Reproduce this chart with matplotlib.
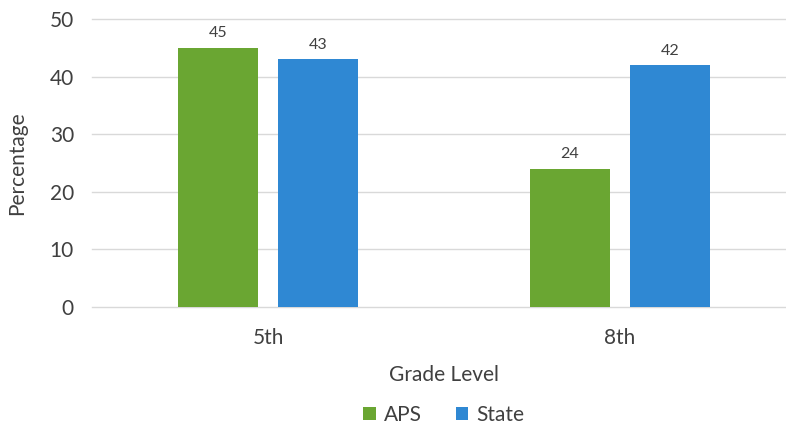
import numpy as np
import matplotlib
matplotlib.use('Agg')
import matplotlib.pyplot as plt

grades = ['5th', '8th']
aps_pct = [45, 24]
state_pct = [43, 42]
series_names = ['APS', 'State']

GREEN = '#6aa632'
BLUE = '#2f88d3'
TEXT_COLOR = '#404040'

plt.rcParams['font.family'] = ['Lato', 'DejaVu Sans']

BAR_STYLING = {
    'width': 0.225,
    'zorder': 3,
}

LABEL_STYLING = {
    'ha': 'center',
    'va': 'bottom',
    'fontsize': 11.5,
    'color': TEXT_COLOR,
}

fig = plt.figure(figsize=(7.86, 4.25), dpi=100)
ax = fig.add_axes([92 / 786, 1 - 307 / 425, 704 / 786, 288 / 425])

x = np.arange(len(grades))
offset = 0.142

bars_aps = ax.bar(x - offset, aps_pct, color=GREEN, label=series_names[0], **BAR_STYLING)
bars_state = ax.bar(x + offset, state_pct, color=BLUE, label=series_names[1], **BAR_STYLING)

for bars, vals in ((bars_aps, aps_pct), (bars_state, state_pct)):
    for b, v in zip(bars, vals):
        ax.text(b.get_x() + b.get_width() / 2, v + 1.3, f'{v}', **LABEL_STYLING)

ax.set_xlim(-0.5, 1.5)
ax.set_ylim(0, 50)
ax.set_yticks(range(0, 51, 10))
ax.set_xticks(x)
ax.set_xticklabels(grades)
ax.tick_params(axis='both', length=0, labelsize=15, labelcolor=TEXT_COLOR)
ax.tick_params(axis='y', pad=13)
ax.tick_params(axis='x', pad=15)

ax.grid(axis='y', color='#d9d9d9', linewidth=1, zorder=0)
for line in ax.get_ygridlines():
    line.set_clip_on(False)
for side in ('top', 'right', 'left', 'bottom'):
    ax.spines[side].set_visible(False)

ax.set_ylabel('Percentage', fontsize=15, color=TEXT_COLOR, labelpad=16)
ax.set_xlabel('Grade Level', fontsize=15, color=TEXT_COLOR, labelpad=12)

ax.legend(
    loc='upper center',
    bbox_to_anchor=(0.5, -0.275),
    ncol=2,
    frameon=False,
    fontsize=15,
    labelcolor=TEXT_COLOR,
    handlelength=0.6,
    handleheight=0.6,
    handletextpad=0.4,
    columnspacing=1.6,
)

fig.savefig('out.png', dpi=100)
